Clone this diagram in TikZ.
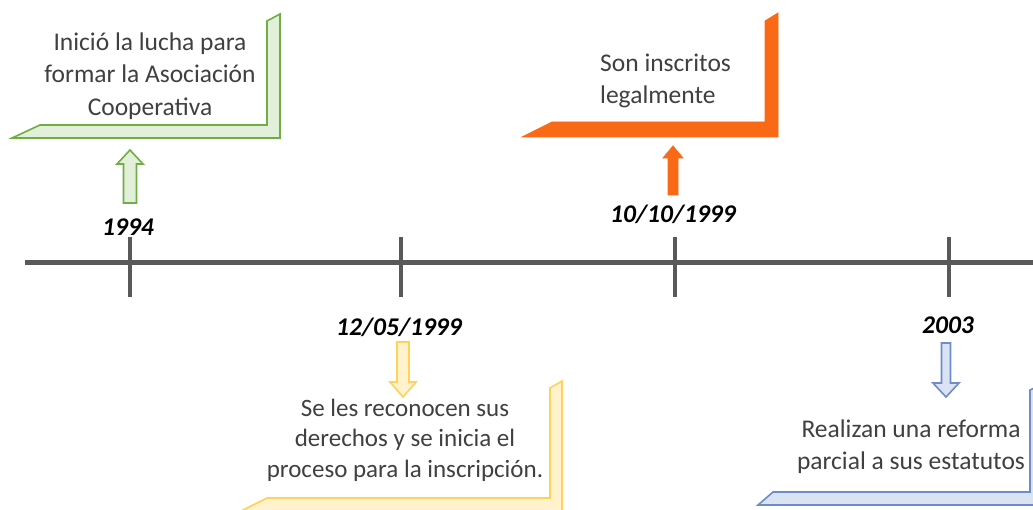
\documentclass[tikz,border=0pt]{standalone}
\usepackage{fontspec}
\setmainfont{Carlito}
\definecolor{axisgray}{RGB}{89,89,89}
\definecolor{txtgray}{RGB}{64,64,64}
\definecolor{gline}{RGB}{112,173,71}
\definecolor{gfill}{RGB}{226,240,217}
\definecolor{oline}{RGB}{250,106,22}
\definecolor{yline}{RGB}{255,210,90}
\definecolor{yfill}{RGB}{255,242,204}
\definecolor{bline}{RGB}{110,140,200}
\definecolor{bfill}{RGB}{218,227,243}
\tikzset{
  axisline/.style={line width=5pt, draw=axisgray},
  tickline/.style={line width=3.5pt, draw=axisgray},
  gshape/.style={draw=gline, fill=gfill, line width=1.6pt, line join=miter},
  oshape/.style={draw=oline, fill=oline, line width=0.8pt, line join=miter},
  yshape/.style={draw=yline, fill=yfill, line width=1.6pt, line join=miter},
  bshape/.style={draw=bline, fill=bfill, line width=1.6pt, line join=miter},
  evtxt/.style={text=txtgray, font=\fontsize{25.5}{32.5}\selectfont, inner sep=0pt, align=center},
  datetxt/.style={text=black, font=\fontsize{25.5}{30}\selectfont\bfseries\itshape, inner sep=0pt}
}
\begin{document}
\begin{tikzpicture}[x=1pt,y=-1pt]
\useasboundingbox (0,0) rectangle (1033,510);
\clip (0,0) rectangle (1033,510);
\fill[white] (0,0) rectangle (1033,510);
% timeline
\draw[axisline] (25,263) -- (1033,263);
\coordinate (k1) at (130,263);
\coordinate (k2) at (401,263);
\coordinate (k3) at (675,263);
\coordinate (k4) at (949,263);
\foreach \k in {k1,k2,k3,k4}{
  \draw[tickline] ([yshift=26pt]\k) -- ([yshift=-34pt]\k);
}
% callout frames
\draw[gshape] (12,138) -- (280,138) -- (280,14) -- (267,21) -- (267,125) -- (40,125) -- cycle;
\draw[oshape] (522,137) -- (778,137) -- (778,13) -- (765,21) -- (765,122) -- (552,122) -- cycle;
\draw[yshape] (239,512) -- (562,512) -- (562,381) -- (550,388) -- (550,498) -- (267,498) -- cycle;
\draw[bshape] (758,505) -- (1045,505) -- (1045,383) -- (1030,390) -- (1030,492) -- (773,492) -- cycle;
% block arrows
\draw[gshape] (123.5,203) -- (123.5,164) -- (117,164) -- (130,150) -- (143,164) -- (136.5,164) -- (136.5,203) -- cycle;
\draw[oshape] (668,195) -- (668,158) -- (663,158) -- (673,146) -- (683,158) -- (678,158) -- (678,195) -- cycle;
\draw[yshape] (397,342) -- (397,382) -- (390,382) -- (403,397) -- (416,382) -- (409,382) -- (409,342) -- cycle;
\draw[bshape] (941.5,343) -- (941.5,383) -- (933,383) -- (946,397) -- (959,383) -- (950.5,383) -- (950.5,343) -- cycle;
% dates
\node[datetxt] (d1) at (128,227) {1994};
\node[datetxt] (d2) at (399,327) {12/05/1999};
\node[datetxt] (d3) at (673,214) {10/10/1999};
\node[datetxt] (d4) at (948,325) {2003};
% event texts
\node[evtxt] (e1) at (150,76) {Inició la lucha para\\formar la Asociación\\Cooperativa};
\node[evtxt, align=left, anchor=west] (e3) at (600,81) {Son inscritos\\legalmente};
\node[evtxt, font=\fontsize{25}{30.5}\selectfont] (e2) at (405,440) {Se les reconocen sus\\derechos y se inicia el\\proceso para la inscripción.};
\node[evtxt, font=\fontsize{25.5}{32}\selectfont] (e4) at (911,447) {Realizan una reforma\\parcial a sus estatutos};
\end{tikzpicture}
\end{document}
